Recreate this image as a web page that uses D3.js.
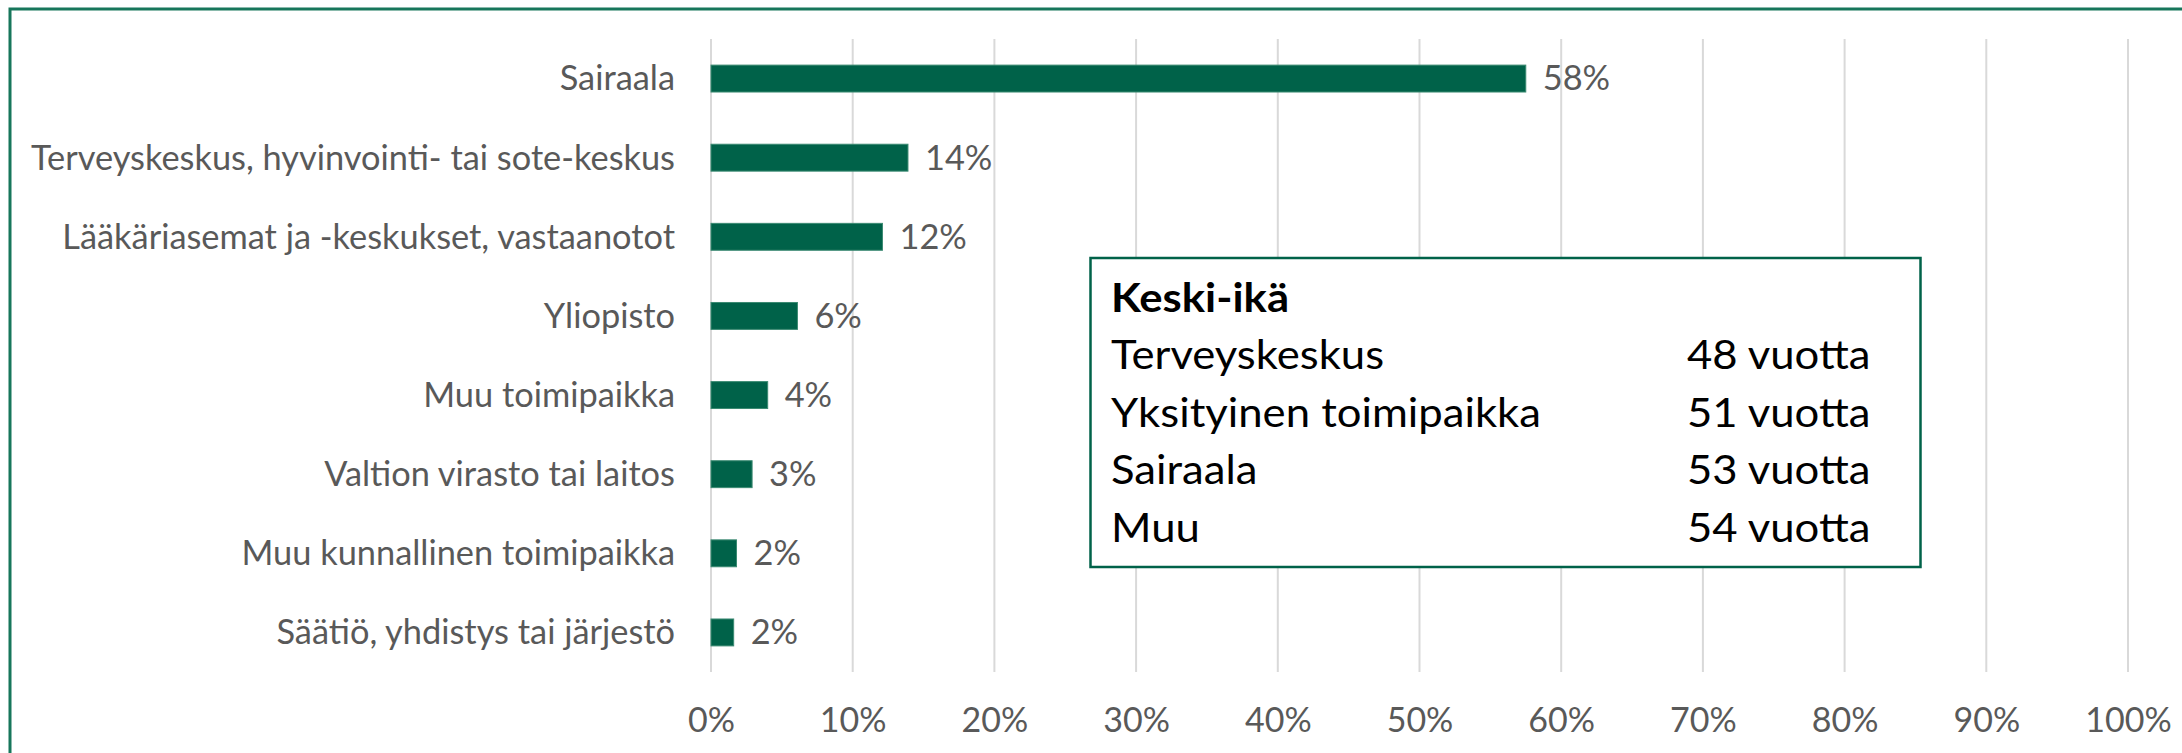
<!DOCTYPE html>
<html>
<head>
<meta charset="utf-8">
<script src="https://cdn.jsdelivr.net/npm/d3@7"></script>
<style>
  body { margin: 0; background: #fff; }
  svg { display: block; }
  text { font-family: Lato, "Open Sans", sans-serif; }
</style>
</head>
<body>
<svg id="chart_svg" width="2182" height="753"></svg>
<script>
// bar chart data (share of respondents, %)
var categories = [
    'Sairaala',
    'Terveyskeskus, hyvinvointi- tai sote-keskus',
    'Lääkäriasemat ja -keskukset, vastaanotot',
    'Yliopisto',
    'Muu toimipaikka',
    'Valtion virasto tai laitos',
    'Muu kunnallinen toimipaikka',
    'Säätiö, yhdistys tai järjestö'
];
var values = [57.5, 13.9, 12.1, 6.1, 4.0, 2.9, 1.8, 1.6];
var xTicks = [0, 10, 20, 30, 40, 50, 60, 70, 80, 90, 100];

// text box: average age
var boxTitle = 'Keski-ikä';
var ageGroups = ['Terveyskeskus', 'Yksityinen toimipaikka', 'Sairaala', 'Muu'];
var ageValues = [48, 51, 53, 54];

document.addEventListener('DOMContentLoaded', function () {
    drawChart();
});

// set every text's length to its natural width times k
function squeeze(sel, k) {
    sel.each(function () {
        const w = this.getComputedTextLength();
        d3.select(this).attr('textLength', w * k).attr('lengthAdjust', 'spacingAndGlyphs');
    });
}

function drawChart() {
    const svg = d3.select('#chart_svg');
    const green = '#006249';
    const grey = '#595959';

    // outer frame
    svg.append('rect')
        .attr('x', 10).attr('y', 9)
        .attr('width', 2300).attr('height', 900)
        .attr('fill', 'none')
        .attr('stroke', '#17765b')
        .attr('stroke-width', 3);

    const plot = { left: 711, right: 2128, top: 39, bottom: 672 };

    const x = d3.scaleLinear().domain([0, 100]).range([plot.left, plot.right]);
    const y = d3.scaleBand()
        .domain(categories)
        .range([plot.top, plot.bottom])
        .paddingInner(0.66)
        .paddingOuter(0.33);

    // gridlines
    svg.append('g').selectAll('line')
        .data(xTicks)
        .enter()
        .append('line')
        .attr('x1', d => x(d)).attr('x2', d => x(d))
        .attr('y1', plot.top).attr('y2', plot.bottom)
        .attr('stroke', '#d9d9d9')
        .attr('stroke-width', 2);

    // x axis labels
    const xAxis = d3.axisBottom(x)
        .tickValues(xTicks)
        .tickFormat(d => d + '%')
        .tickSize(0)
        .tickPadding(0);
    const gx = svg.append('g')
        .attr('transform', `translate(0,${plot.bottom})`)
        .call(xAxis);
    gx.select('.domain').remove();
    gx.selectAll('text')
        .attr('y', 60)
        .attr('dy', null)
        .attr('font-size', 34)
        .attr('font-family', 'Lato, sans-serif')
        .attr('fill', grey);

    // bars
    svg.append('g').selectAll('rect')
        .data(values)
        .enter()
        .append('rect')
        .attr('x', x(0))
        .attr('y', (d, i) => y(categories[i]))
        .attr('width', d => x(d) - x(0))
        .attr('height', y.bandwidth())
        .attr('fill', green)
        .attr('stroke', '#3b8a72')
        .attr('stroke-width', 1);

    // category labels
    const catLabels = svg.append('g').selectAll('text')
        .data(categories)
        .enter()
        .append('text')
        .attr('x', plot.left - 36)
        .attr('y', d => y(d) + y.bandwidth() / 2)
        .attr('dy', '0.35em')
        .attr('text-anchor', 'end')
        .attr('font-size', 34)
        .attr('fill', grey)
        .text(d => d);

    // value labels
    const valLabels = svg.append('g').selectAll('text')
        .data(values)
        .enter()
        .append('text')
        .attr('x', d => x(d) + 17)
        .attr('y', (d, i) => y(categories[i]) + y.bandwidth() / 2)
        .attr('dy', '0.35em')
        .attr('font-size', 34)
        .attr('fill', grey)
        .text(d => Math.round(d) + '%');

    // fit widths to the original narrow font
    const k = 644 / catLabels.filter((d, i) => i == 1).node().getComputedTextLength();
    squeeze(catLabels, k);
    squeeze(valLabels, k);

    // text box
    const box = svg.append('g');
    box.append('rect')
        .attr('x', 1090.5).attr('y', 258)
        .attr('width', 830).attr('height', 309)
        .attr('fill', '#fff')
        .attr('stroke', green)
        .attr('stroke-width', 2.5);
    const title = box.append('text')
        .attr('x', 1111).attr('y', 312)
        .attr('font-size', 40)
        .attr('font-weight', 'bold')
        .attr('fill', '#000')
        .text(boxTitle);
    const names = box.append('g').selectAll('text')
        .data(ageGroups)
        .enter()
        .append('text')
        .attr('x', 1111)
        .attr('y', (d, i) => 369 + i * 57.7)
        .attr('font-size', 40)
        .attr('fill', '#000')
        .text(d => d);
    const ages = box.append('g').selectAll('text')
        .data(ageValues)
        .enter()
        .append('text')
        .attr('x', 1687)
        .attr('y', (d, i) => 369 + i * 57.7)
        .attr('font-size', 40)
        .attr('fill', '#000')
        .text(d => d + ' vuotta');
    const kb = 430 / names.filter((d, i) => i == 1).node().getComputedTextLength();
    squeeze(names, kb);
    squeeze(ages, kb);
    squeeze(title, kb);

    console.log('trace:drawChart()');
}
</script>
</body>
</html>
